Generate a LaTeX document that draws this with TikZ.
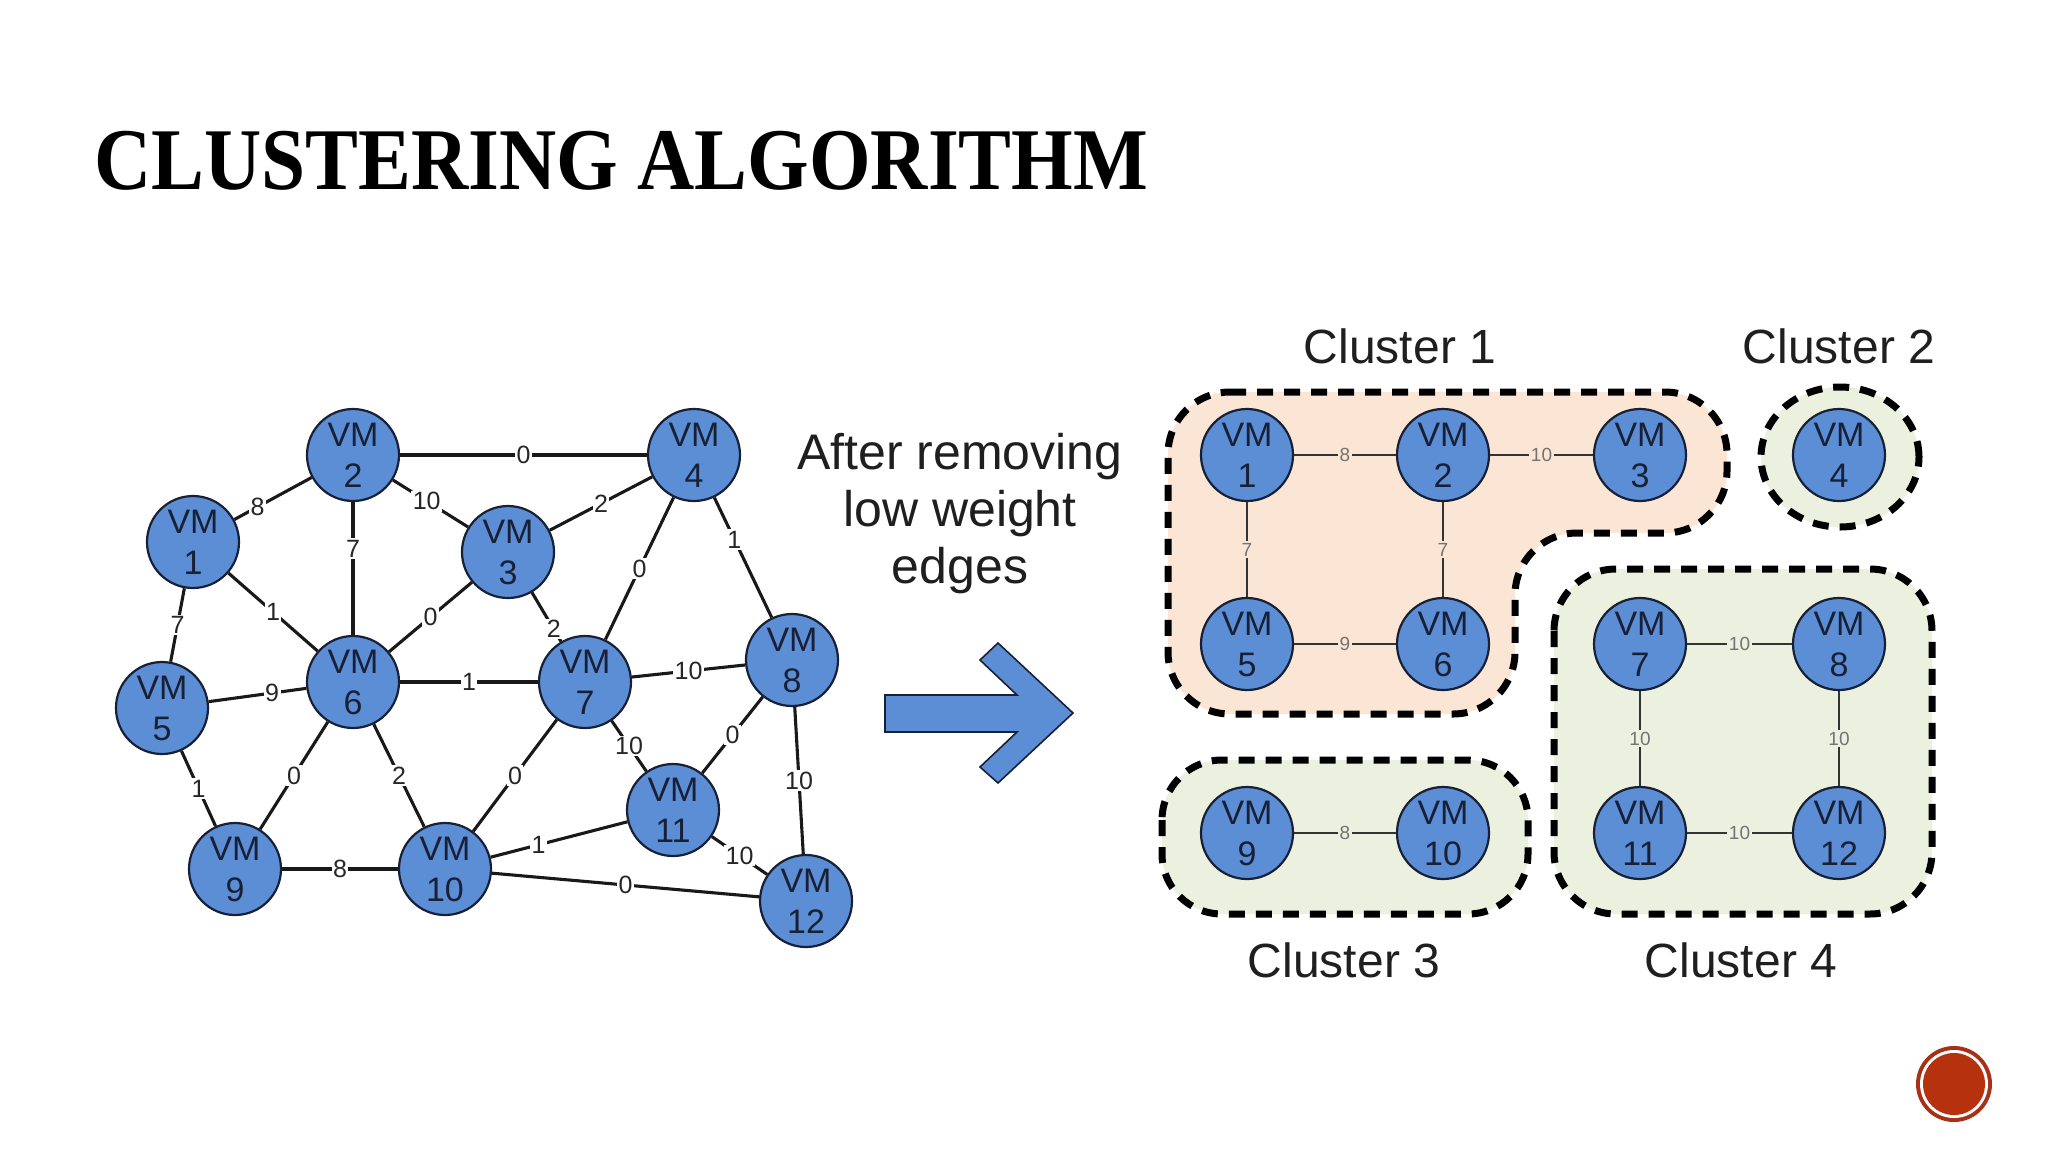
\documentclass[tikz,border=0pt]{standalone}
\usepackage{fontspec}
\setmainfont{Liberation Sans}
\newfontfamily\titlefont{Liberation Serif}
\definecolor{vmblue}{RGB}{92,142,214}
\definecolor{vmline}{RGB}{24,32,54}
\definecolor{peach}{RGB}{251,229,212}
\definecolor{palegreen}{RGB}{235,241,222}
\definecolor{btnred}{RGB}{182,50,14}
\definecolor{btnring}{RGB}{168,48,22}
\begin{document}
\begin{tikzpicture}[x=1pt,y=-1pt,
  vm/.style={circle, draw=vmline, line width=2.2pt, fill=vmblue, minimum size=92pt,
    inner sep=0pt, align=center, text=vmline, font=\fontsize{34}{41}\selectfont},
  gedge/.style={draw=black!90, line width=3.1pt},
  wl/.style={fill=white, inner sep=1.5pt, text=black!85, font=\fontsize{25}{25}\selectfont},
  redge/.style={draw=black!80, line width=2.4pt},
  rl/.style={inner sep=1.5pt, text=black!55, font=\fontsize{19}{19}\selectfont},
  clus/.style={draw=black, line width=7pt, dash pattern=on 16pt off 11pt},
  biglbl/.style={anchor=base, inner sep=0pt, text=black!88, font=\fontsize{48}{56}\selectfont}
]
\useasboundingbox[fill=white] (0,0) rectangle (2048,1152);

% title
\node[anchor=base west, inner sep=0pt, font=\titlefont\bfseries\fontsize{88}{88}\selectfont] (title) at (94,189) {\scalebox{0.9}[1]{CLUSTERING ALGORITHM}};

% ---------- left graph ----------
\node[vm] (a1) at (193,542) {VM\\1};
\node[vm] (a2) at (353,455) {VM\\2};
\node[vm] (a3) at (508,552) {VM\\3};
\node[vm] (a4) at (694,455) {VM\\4};
\node[vm] (a5) at (162,708) {VM\\5};
\node[vm] (a6) at (353,682) {VM\\6};
\node[vm] (a7) at (585,682) {VM\\7};
\node[vm] (a8) at (792,660) {VM\\8};
\node[vm] (a9) at (235,869) {VM\\9};
\node[vm] (a10) at (445,869) {VM\\10};
\node[vm] (a11) at (673,810) {VM\\11};
\node[vm] (a12) at (806,901) {VM\\12};

\draw[gedge] (a1) -- node[wl, pos=0.3] {8} (a2);
\draw[gedge] (a1) -- node[wl] {7} (a5);
\draw[gedge] (a1) -- node[wl] {1} (a6);
\draw[gedge] (a2) -- node[wl] {0} (a4);
\draw[gedge] (a2) -- node[wl, pos=0.45] {10} (a3);
\draw[gedge] (a2) -- node[wl, pos=0.35] {7} (a6);
\draw[gedge] (a3) -- node[wl] {2} (a4);
\draw[gedge] (a3) -- node[wl] {0} (a6);
\draw[gedge] (a3) -- node[wl, pos=0.75] {2} (a7);
\draw[gedge] (a4) -- node[wl] {0} (a7);
\draw[gedge] (a4) -- node[wl, pos=0.35] {1} (a8);
\draw[gedge] (a5) -- node[wl, pos=0.65] {9} (a6);
\draw[gedge] (a5) -- node[wl] {1} (a9);
\draw[gedge] (a6) -- node[wl] {1} (a7);
\draw[gedge] (a6) -- node[wl] {0} (a9);
\draw[gedge] (a6) -- node[wl] {2} (a10);
\draw[gedge] (a7) -- node[wl] {10} (a8);
\draw[gedge] (a7) -- node[wl] {0} (a10);
\draw[gedge] (a7) -- node[wl] {10} (a11);
\draw[gedge] (a8) -- node[wl] {0} (a11);
\draw[gedge] (a8) -- node[wl] {10} (a12);
\draw[gedge] (a9) -- node[wl] {8} (a10);
\draw[gedge] (a10) -- node[wl, pos=0.35] {1} (a11);
\draw[gedge] (a10) -- node[wl] {0} (a12);
\draw[gedge] (a11) -- node[wl] {10} (a12);

% ---------- middle ----------
\node[biglbl, font=\fontsize{50}{56}\selectfont] (after1) at (960,469) {After removing};
\node[biglbl, font=\fontsize{50}{56}\selectfont] (after2) at (960,526) {low weight};
\node[biglbl, font=\fontsize{50}{56}\selectfont] (after3) at (960,583) {edges};
\draw[draw=vmline, line width=1.6pt, fill=vmblue]
  (885,695) -- (1017,695) -- (980,660) -- (998,643) -- (1073,713) -- (998,783)
  -- (980,767) -- (1017,732) -- (885,732) -- cycle;

% ---------- clusters ----------
\draw[clus, fill=peach, rounded corners=62pt]
  (1168,392) -- (1727,392) -- (1727,533) -- (1515,533) -- (1515,714) -- (1168,714) -- cycle;
\draw[clus, fill=palegreen] (1840,457) ellipse [x radius=79pt, y radius=70pt];
\draw[clus, fill=palegreen, rounded corners=60pt] (1162,760) rectangle (1528,914);
\draw[clus, fill=palegreen, rounded corners=62pt] (1554,569) rectangle (1932,914);

\node[biglbl] (c1) at (1400,363) {Cluster 1};
\node[biglbl] (c2) at (1839,363) {Cluster 2};
\node[biglbl] (c3) at (1344,977) {Cluster 3};
\node[biglbl] (c4) at (1741,977) {Cluster 4};

\node[vm] (b1) at (1247,455) {VM\\1};
\node[vm] (b2) at (1443,455) {VM\\2};
\node[vm] (b3) at (1640,455) {VM\\3};
\node[vm] (b4) at (1839,455) {VM\\4};
\node[vm] (b5) at (1247,644) {VM\\5};
\node[vm] (b6) at (1443,644) {VM\\6};
\node[vm] (b7) at (1640,644) {VM\\7};
\node[vm] (b8) at (1839,644) {VM\\8};
\node[vm] (b9) at (1247,833) {VM\\9};
\node[vm] (b10) at (1443,833) {VM\\10};
\node[vm] (b11) at (1640,833) {VM\\11};
\node[vm] (b12) at (1839,833) {VM\\12};

\draw[redge] (b1) -- node[rl, fill=peach] {8} (b2);
\draw[redge] (b2) -- node[rl, fill=peach] {10} (b3);
\draw[redge] (b1) -- node[rl, fill=peach] {7} (b5);
\draw[redge] (b2) -- node[rl, fill=peach] {7} (b6);
\draw[redge] (b5) -- node[rl, fill=peach] {9} (b6);
\draw[redge] (b7) -- node[rl, fill=palegreen] {10} (b8);
\draw[redge] (b7) -- node[rl, fill=palegreen] {10} (b11);
\draw[redge] (b8) -- node[rl, fill=palegreen] {10} (b12);
\draw[redge] (b11) -- node[rl, fill=palegreen] {10} (b12);
\draw[redge] (b9) -- node[rl, fill=palegreen] {8} (b10);

% ---------- corner button ----------
\node[circle, fill=btnring, minimum size=76pt, inner sep=0pt] (btn) at (1954,1084) {};
\node[circle, fill=white, minimum size=68pt, inner sep=0pt] (btnring) at (btn.center) {};
\node[circle, fill=btnred, minimum size=62pt, inner sep=0pt] (btncore) at (btn.center) {};
\end{tikzpicture}
\end{document}
